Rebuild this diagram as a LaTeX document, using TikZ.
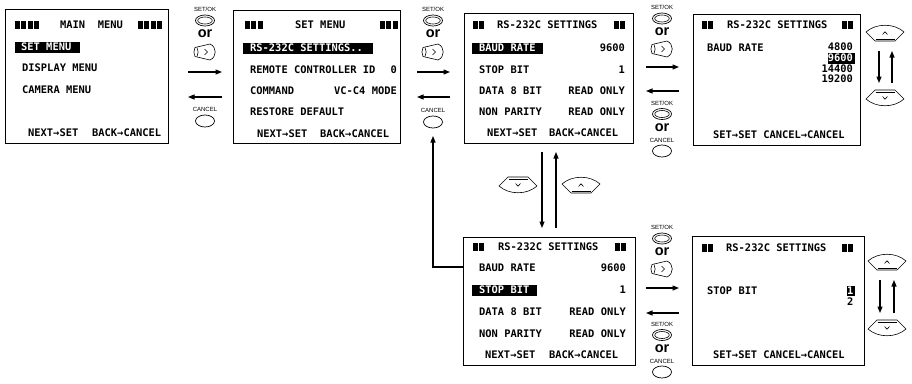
\documentclass[tikz,border=0pt]{standalone}
\usepackage{fontspec}
\setmainfont{Liberation Sans}
\newfontfamily\lcdfont{DejaVu Sans Mono}
\usetikzlibrary{arrows.meta,shapes.geometric}
\tikzset{
  lcdbox/.style={draw, line width=0.9pt, inner sep=0pt},
  lt/.style={font=\lcdfont\bfseries\fontsize{10.4}{12}\selectfont, inner sep=0pt},
  ltw/.style={lt, text=white},
  arr/.style={line width=1.1pt, -{Triangle[length=6.5pt,width=5pt]}},
  keyline/.style={line width=0.6pt},
  smalllbl/.style={font=\fontsize{6}{6}\selectfont, inner sep=0pt},
  orlbl/.style={font=\bfseries\fontsize{14.5}{14.5}\selectfont, inner sep=0pt},
  okouter/.style={ellipse, draw, line width=0.7pt, minimum width=19pt, minimum height=11pt, inner sep=0pt},
  okinner/.style={ellipse, draw, line width=0.6pt, minimum width=14.5pt, minimum height=7pt, inner sep=0pt},
  cell/.style={ellipse, draw, line width=0.7pt, minimum width=19pt, minimum height=12pt, inner sep=0pt}
}
\newcommand{\okbtn}[3]{%
  \node[okouter] (#1) at (#2,#3) {};
  \node[okinner] (#1i) at (#2,#3) {};}
\newcommand{\udkey}[3]{%
  \begin{scope}[shift={(#1,#2)},yscale=#3]
    \draw[keyline] (-10,8) -- (-19,-1) .. controls (-9,-10) and (9,-10) .. (19,-1) -- (10,8) -- cycle;
    \draw[keyline] (-9.5,6.2) -- (9.5,6.2);
    \draw[keyline] (-2.5,1.5) -- (0,-1.2) -- (2.5,1.5);
  \end{scope}}
\newcommand{\rkey}[2]{%
  \begin{scope}[shift={(#1,#2)}]
    \draw[keyline] (-10,-4.5) -- (5,-8) .. controls (12,-5) and (12,5) .. (5,8) -- (-10,4.5) .. controls (-11.5,1.5) and (-11.5,-1.5) .. cycle;
    \draw[keyline] (-8,-4.5) .. controls (-6.5,-1.5) and (-6.5,1.5) .. (-8,4.5);
    \draw[keyline] (-0.5,-3) -- (2.5,0) -- (-0.5,3);
  \end{scope}}
\newcommand{\lcdblocks}[3]{%
  \foreach \i in {1,...,#3} {\fill ({#1+(\i-1)*6.3},{#2-3.8}) rectangle ++(5,7.6);}}
\begin{document}
\begin{tikzpicture}[x=1pt,y=-1pt]
\useasboundingbox (0,0) rectangle (912,383);
\fill[white] (0,0) rectangle (912,383);

% ---------------- boxes
\node[lcdbox, minimum width=163pt, minimum height=134pt] (B1) at (86.5,76) {};
\node[lcdbox, minimum width=167pt, minimum height=133pt] (B2) at (316.5,76.5) {};
\node[lcdbox, minimum width=169pt, minimum height=130pt] (B3) at (548.5,78) {};
\node[lcdbox, minimum width=167pt, minimum height=131pt] (B4) at (776.5,79.5) {};
\node[lcdbox, minimum width=172pt, minimum height=128pt] (B5) at (549,301) {};
\node[lcdbox, minimum width=172pt, minimum height=129pt] (B6) at (778,300.5) {};

% ---------------- box 1
\lcdblocks{15}{25}{4}
\lcdblocks{138}{25}{4}
\node[lt, anchor=west] (t11) at (60,25) {MAIN\ \ MENU};
\fill (15,42) rectangle (80,52.5);
\node[ltw, anchor=west] (t12) at (21,47) {SET MENU};
\node[lt, anchor=west] (t13) at (22,68) {DISPLAY MENU};
\node[lt, anchor=west] (t14) at (22,90) {CAMERA MENU};
\node[lt, anchor=west] (t15) at (28,133) {NEXT→SET};
\node[lt, anchor=west] (t16) at (92,133) {BACK→CANCEL};

% ---------------- box 2
\lcdblocks{245}{25}{3}
\lcdblocks{380}{25}{3}
\node[lt, anchor=west] (t21) at (295,25) {SET MENU};
\fill (243,43) rectangle (373,53.5);
\node[ltw, anchor=west] (t22) at (250,48) {RS-232C SETTINGS..};
\node[lt, anchor=west] (t23) at (250,70) {REMOTE CONTROLLER ID};
\node[lt, anchor=east] (t24) at (397,70) {0};
\node[lt, anchor=west] (t25) at (250,91) {COMMAND};
\node[lt, anchor=east] (t26) at (397,91) {VC-C4 MODE};
\node[lt, anchor=west] (t27) at (250,112) {RESTORE DEFAULT};
\node[lt, anchor=west] (t28) at (257,134) {NEXT→SET};
\node[lt, anchor=west] (t29) at (320,134) {BACK→CANCEL};

% ---------------- box 3
\lcdblocks{473}{25}{2}
\lcdblocks{614}{25}{2}
\node[lt, anchor=west] (t31) at (497,25) {RS-232C SETTINGS};
\fill (472,43) rectangle (543,53.5);
\node[ltw, anchor=west] (t32) at (479,48) {BAUD RATE};
\node[lt, anchor=east] (t33) at (625,48) {9600};
\node[lt, anchor=west] (t34) at (479,70) {STOP BIT};
\node[lt, anchor=east] (t35) at (625,70) {1};
\node[lt, anchor=west] (t36) at (479,91) {DATA 8 BIT};
\node[lt, anchor=east] (t37) at (625,91) {READ ONLY};
\node[lt, anchor=west] (t38) at (479,112) {NON PARITY};
\node[lt, anchor=east] (t39) at (625,112) {READ ONLY};
\node[lt, anchor=west] (t3a) at (487,133) {NEXT→SET};
\node[lt, anchor=west] (t3b) at (549,133) {BACK→CANCEL};

% ---------------- box 4
\lcdblocks{702}{25}{2}
\lcdblocks{842}{25}{2}
\node[lt, anchor=west] (t41) at (727,25) {RS-232C SETTINGS};
\node[lt, anchor=west] (t42) at (707,48) {BAUD RATE};
\node[lt, anchor=east] (t43) at (853,47) {4800};
\fill (828,53) rectangle (855,63.5);
\node[ltw, anchor=east] (t44) at (853,58) {9600};
\node[lt, anchor=east] (t45) at (853,68.5) {14400};
\node[lt, anchor=east] (t46) at (853,79) {19200};
\node[lt, anchor=west] (t47) at (713,135) {SET→SET CANCEL→CANCEL};

% ---------------- box 5
\lcdblocks{473}{247}{2}
\lcdblocks{615}{247}{2}
\node[lt, anchor=west] (t51) at (498,247) {RS-232C SETTINGS};
\node[lt, anchor=west] (t52) at (479,268) {BAUD RATE};
\node[lt, anchor=east] (t53) at (626,268) {9600};
\fill (472,285) rectangle (537,295.5);
\node[ltw, anchor=west] (t54) at (479,290) {STOP BIT};
\node[lt, anchor=east] (t55) at (626,290) {1};
\node[lt, anchor=west] (t56) at (479,312) {DATA 8 BIT};
\node[lt, anchor=east] (t57) at (626,312) {READ ONLY};
\node[lt, anchor=west] (t58) at (479,334) {NON PARITY};
\node[lt, anchor=east] (t59) at (626,334) {READ ONLY};
\node[lt, anchor=west] (t5a) at (485,355) {NEXT→SET};
\node[lt, anchor=west] (t5b) at (549,355) {BACK→CANCEL};

% ---------------- box 6
\lcdblocks{702}{248}{2}
\lcdblocks{842}{248}{2}
\node[lt, anchor=west] (t61) at (726,248) {RS-232C SETTINGS};
\node[lt, anchor=west] (t62) at (707,291) {STOP BIT};
\fill (847,285.5) rectangle (854.5,296);
\node[ltw, anchor=east] (t63) at (853.5,291) {1};
\node[lt, anchor=east] (t64) at (853.5,302) {2};
\node[lt, anchor=west] (t65) at (713,355) {SET→SET CANCEL→CANCEL};

% ---------------- column 1
\node[smalllbl] (c1s) at (205,9) {SET/OK};
\okbtn{c1o}{205}{20.5}
\node[orlbl] (c1r) at (205,33.5) {or};
\rkey{205}{52}
\coordinate (c1a) at (188,72); \coordinate (c1b) at (222,72);
\draw[arr] (c1a) -- (c1b);
\coordinate (c1c) at (222,97); \coordinate (c1d) at (188,97);
\draw[arr] (c1c) -- (c1d);
\node[smalllbl] (c1n) at (205,109) {CANCEL};
\node[cell] (c1e) at (205,121) {};

% ---------------- column 2
\node[smalllbl] (c2s) at (433,9) {SET/OK};
\okbtn{c2o}{433}{20.5}
\node[orlbl] (c2r) at (433,33.5) {or};
\rkey{433}{52}
\coordinate (c2a) at (417,72); \coordinate (c2b) at (450,72);
\draw[arr] (c2a) -- (c2b);
\coordinate (c2c) at (450,97); \coordinate (c2d) at (417,97);
\draw[arr] (c2c) -- (c2d);
\node[smalllbl] (c2n) at (433,110) {CANCEL};
\node[cell] (c2e) at (433,122) {};

% ---------------- column 3
\node[smalllbl] (c3s) at (662,7) {SET/OK};
\okbtn{c3o}{662}{18.5}
\node[orlbl] (c3r) at (662,31.5) {or};
\rkey{662}{49}
\coordinate (c3a) at (646,67); \coordinate (c3b) at (679,67);
\draw[arr] (c3a) -- (c3b);
\coordinate (c3c) at (679,91); \coordinate (c3d) at (646,91);
\draw[arr] (c3c) -- (c3d);
\node[smalllbl] (c3t) at (662,103) {SET/OK};
\okbtn{c3p}{662}{114}
\node[orlbl] (c3q) at (662,127.5) {or};
\node[smalllbl] (c3n) at (662,140) {CANCEL};
\node[cell] (c3e) at (662,151) {};

% ---------------- column 4
\node[smalllbl] (c4s) at (662,227) {SET/OK};
\okbtn{c4o}{662}{238.5}
\node[orlbl] (c4r) at (662,251.5) {or};
\rkey{662}{269}
\coordinate (c4a) at (646,288); \coordinate (c4b) at (679,288);
\draw[arr] (c4a) -- (c4b);
\coordinate (c4c) at (679,313); \coordinate (c4d) at (646,313);
\draw[arr] (c4c) -- (c4d);
\node[smalllbl] (c4t) at (662,324) {SET/OK};
\okbtn{c4p}{662}{335}
\node[orlbl] (c4q) at (662,348.5) {or};
\node[smalllbl] (c4n) at (662,361) {CANCEL};
\node[cell] (c4e) at (662,372) {};

% ---------------- up/down keys
\udkey{885}{33}{1}
\udkey{885}{98}{-1}
\coordinate (k4a) at (879,51); \coordinate (k4b) at (879,83);
\draw[arr] (k4a) -- (k4b);
\coordinate (k4c) at (892,83); \coordinate (k4d) at (892,51);
\draw[arr] (k4c) -- (k4d);

\udkey{887}{262}{1}
\udkey{887}{328}{-1}
\coordinate (k6a) at (880,280); \coordinate (k6b) at (880,313);
\draw[arr] (k6a) -- (k6b);
\coordinate (k6c) at (894,313); \coordinate (k6d) at (894,280);
\draw[arr] (k6c) -- (k6d);

\udkey{518}{185}{-1}
\udkey{581}{185}{1}
\coordinate (k5a) at (542,152); \coordinate (k5b) at (542,228);
\draw[arr] (k5a) -- (k5b);
\coordinate (k5c) at (556,228); \coordinate (k5d) at (556,152);
\draw[arr] (k5c) -- (k5d);

% ---------------- return connector
\coordinate (lp) at (463,267);
\coordinate (lpe) at (433,136);
\draw[arr] (lp) -| (lpe);
\end{tikzpicture}
\end{document}
